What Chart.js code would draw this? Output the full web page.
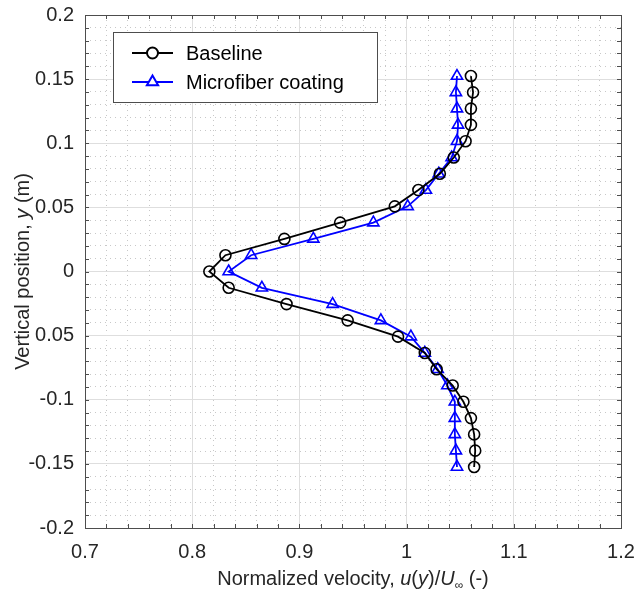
<!DOCTYPE html>
<html>
<head>
<meta charset="utf-8">
<script src="https://cdn.jsdelivr.net/npm/chart.js@4/dist/chart.umd.min.js"></script>
<style>
  html, body { margin: 0; padding: 0; background: #fff; }
  #wrap { width: 635px; height: 595px; }
</style>
</head>
<body>
<div id="wrap"><canvas id="chart" width="635" height="595"></canvas></div>
<script>
// ---- data ----
const yPositions = [0.1524, 0.1397, 0.127, 0.1143, 0.1016, 0.0889, 0.0762, 0.0635, 0.0508, 0.0381, 0.0254, 0.0127, 0,
  -0.0127, -0.0254, -0.0381, -0.0508, -0.0635, -0.0762, -0.0889, -0.1016, -0.1143, -0.127, -0.1397, -0.1524];
const baseline = [1.060, 1.062, 1.060, 1.060, 1.055, 1.044, 1.031, 1.011, 0.989, 0.938, 0.886, 0.831, 0.816,
  0.834, 0.888, 0.945, 0.992, 1.017, 1.028, 1.043, 1.053, 1.060, 1.063, 1.064, 1.063];
const microfiber = [1.047, 1.046, 1.047, 1.048, 1.047, 1.042, 1.030, 1.018, 1.001, 0.969, 0.913, 0.855, 0.834,
  0.865, 0.931, 0.976, 1.004, 1.017, 1.029, 1.038, 1.045, 1.045, 1.045, 1.046, 1.047];
const seriesNames = ["Baseline", "Microfiber coating"];
const xTickLabels = ["0.7", "0.8", "0.9", "1", "1.1", "1.2"];
const yTickLabels = ["-0.2", "-0.15", "-0.1", "0.05", "0", "0.05", "0.1", "0.15", "0.2"];

const FONT = "Liberation Sans, Arial, sans-serif";
const TEXT = "#262626";
const AXIS = "#4d4d4d";

function pts(xs) { return xs.map((x, i) => ({ x: x, y: yPositions[i] })); }

// major / minor helpers
const isMajorX = v => Math.abs(Math.round(v * 100) % 10) === 0;
const isMajorY = v => Math.abs(Math.round(v * 1000) % 50) === 0;

// ---- plugin: axes box, inward ticks, titles, legend ----
const decor = {
  id: "decor",
  afterDraw(chart) {
    const c = chart.ctx, a = chart.chartArea;
    const xs = chart.scales.x, ys = chart.scales.y;
    c.save();
    // box
    c.strokeStyle = AXIS; c.lineWidth = 1;
    c.strokeRect(Math.round(a.left) + 0.5, Math.round(a.top) + 0.5,
      Math.round(a.right - a.left), Math.round(a.bottom - a.top));
    // inward ticks
    c.beginPath();
    xs.ticks.forEach(t => {
      const px = Math.round(xs.getPixelForValue(t.value)) + 0.5;
      c.moveTo(px, a.bottom); c.lineTo(px, a.bottom - 4);
      c.moveTo(px, a.top); c.lineTo(px, a.top + 4);
    });
    ys.ticks.forEach(t => {
      const py = Math.round(ys.getPixelForValue(t.value)) + 0.5;
      c.moveTo(a.left, py); c.lineTo(a.left + 4, py);
      c.moveTo(a.right, py); c.lineTo(a.right - 4, py);
    });
    c.stroke();

    // x title with italics + subscript
    const runs = [
      ["Normalized velocity, ", "", 20, 0],
      ["u", "italic ", 20, 0], ["(", "", 20, 0], ["y", "italic ", 20, 0], [")/", "", 20, 0],
      ["U", "italic ", 20, 0], ["\u221e", "", 12, 4], [" (-)", "", 20, 0]
    ];
    c.fillStyle = TEXT;
    c.textBaseline = "alphabetic";
    let w = 0;
    runs.forEach(r => { c.font = r[1] + r[2] + "px " + FONT; w += c.measureText(r[0]).width; });
    let x = (a.left + a.right) / 2 - w / 2;
    const by = 585;
    runs.forEach(r => {
      c.font = r[1] + r[2] + "px " + FONT;
      c.textAlign = "left";
      c.fillText(r[0], x, by + r[3]);
      x += c.measureText(r[0]).width;
    });

    // y title, rotated
    const yruns = [["Vertical position, ", ""], ["y", "italic "], [" (m)", ""]];
    c.save();
    c.translate(29, (a.top + a.bottom) / 2);
    c.rotate(-Math.PI / 2);
    w = 0;
    yruns.forEach(r => { c.font = r[1] + "20px " + FONT; w += c.measureText(r[0]).width; });
    x = -w / 2;
    yruns.forEach(r => {
      c.font = r[1] + "20px " + FONT;
      c.fillText(r[0], x, 0);
      x += c.measureText(r[0]).width;
    });
    c.restore();

    // legend
    const lx = 113.5, ly = 32.5, lw = 264, lh = 70;
    c.fillStyle = "#fff";
    c.fillRect(lx, ly, lw, lh);
    c.strokeStyle = AXIS; c.lineWidth = 1;
    c.strokeRect(lx, ly, lw, lh);
    chart.data.datasets.forEach((ds, i) => {
      const cy = 53 + i * 29;
      c.strokeStyle = ds.borderColor; c.lineWidth = 2;
      c.beginPath(); c.moveTo(132, cy); c.lineTo(173, cy); c.stroke();
      c.lineWidth = 2;
      c.beginPath();
      if (ds.pointStyle === "triangle") {
        const r = 6.5;
        c.moveTo(152.5, cy - r);
        c.lineTo(152.5 + r * 0.866, cy + r * 0.5);
        c.lineTo(152.5 - r * 0.866, cy + r * 0.5);
        c.closePath();
      } else {
        c.arc(152.5, cy, 5.5, 0, Math.PI * 2);
      }
      c.fillStyle = "#fff"; c.fill(); c.stroke();
      c.fillStyle = "#000";
      c.font = "20px " + FONT;
      c.textBaseline = "middle";
      c.textAlign = "left";
      c.fillText(ds.label, 186, cy + 1);
    });
    c.restore();
  }
};

new Chart(document.getElementById("chart"), {
  type: "scatter",
  data: {
    datasets: [
      {
        label: seriesNames[0], data: pts(baseline), showLine: true,
        borderColor: "#000000", backgroundColor: "rgba(0,0,0,0)", borderWidth: 1.8,
        pointStyle: "circle", pointRadius: 5.5, pointBorderWidth: 1.6, pointBackgroundColor: "rgba(0,0,0,0)"
      },
      {
        label: seriesNames[1], data: pts(microfiber), showLine: true,
        borderColor: "#0000ff", backgroundColor: "rgba(0,0,0,0)", borderWidth: 1.8,
        pointStyle: "triangle", pointRadius: 6.5, pointBorderWidth: 1.6, pointBackgroundColor: "rgba(0,0,0,0)"
      }
    ]
  },
  options: {
    responsive: false,
    animation: false,
    layout: { padding: { top: 15, right: 14, left: 0, bottom: 0 } },
    plugins: { legend: { display: false }, tooltip: { enabled: false } },
    elements: { line: { tension: 0 } },
    scales: {
      x: {
        type: "linear", min: 0.7, max: 1.2,
        afterFit: s => { s.height = 67; s.paddingLeft = 0; s.paddingRight = 0; },
        border: { display: false, dash: ctx => (ctx.tick && isMajorX(ctx.tick.value)) ? [] : [1, 4] },
        grid: {
          drawTicks: false,
          color: ctx => (ctx.tick && isMajorX(ctx.tick.value)) ? "#dedede" : "#c8c8c8",
          lineWidth: 1
        },
        ticks: {
          stepSize: 0.02, autoSkip: false, maxRotation: 0, padding: 12,
          color: TEXT, font: { family: FONT, size: 20 },
          callback: v => isMajorX(v) ? xTickLabels[Math.round((v - 0.7) * 10)] : ""
        }
      },
      y: {
        type: "linear", min: -0.2, max: 0.2,
        afterFit: s => { s.width = 85; s.paddingTop = 0; s.paddingBottom = 0; },
        border: { display: false, dash: ctx => (ctx.tick && isMajorY(ctx.tick.value)) ? [] : [1, 4] },
        grid: {
          drawTicks: false,
          color: ctx => (ctx.tick && isMajorY(ctx.tick.value)) ? "#dedede" : "#c8c8c8",
          lineWidth: 1
        },
        ticks: {
          stepSize: 0.01, autoSkip: false, padding: 11,
          color: TEXT, font: { family: FONT, size: 20 },
          callback: v => isMajorY(v) ? yTickLabels[Math.round((v + 0.2) * 20)] : ""
        }
      }
    }
  },
  plugins: [decor]
});
</script>
</body>
</html>
